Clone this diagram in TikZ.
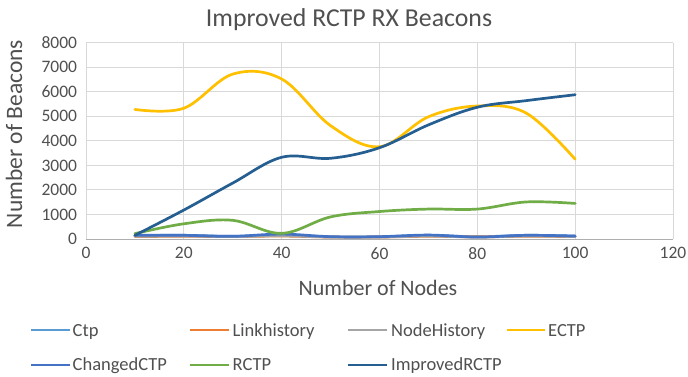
\documentclass[tikz,border=0pt]{standalone}
\usepackage{fontspec}
\setmainfont{Carlito}
\definecolor{textgray}{HTML}{505050}
\definecolor{gridgray}{HTML}{D9D9D9}
\definecolor{cCtp}{HTML}{5B9BD5}
\definecolor{cLink}{HTML}{ED7D31}
\definecolor{cNode}{HTML}{A5A5A5}
\definecolor{cEctp}{HTML}{FFC000}
\definecolor{cChanged}{HTML}{4472C4}
\definecolor{cRctp}{HTML}{70AD47}
\definecolor{cImproved}{HTML}{255E91}
\begin{document}
\begin{tikzpicture}[x=1pt,y=-1pt,
  txt/.style={text=textgray, inner sep=0pt},
  ticklbl/.style={txt, font=\fontsize{17.5}{20}\selectfont},
  legendlbl/.style={txt, anchor=base west, font=\fontsize{18.5}{21}\selectfont},
  gridline/.style={draw=gridgray, line width=0.9pt},
  series/.style={line width=2.7pt, line cap=round, line join=round},
  keyline/.style={line width=2.6pt}]
\useasboundingbox[fill=white] (0,0) rectangle (688,377);

% titles
\node[txt, anchor=base, font=\fontsize{25.8}{30}\selectfont] (title) at (349,27) {Improved RCTP RX Beacons};
\node[txt, anchor=base, rotate=90, font=\fontsize{23.5}{28}\selectfont] (ylabel) at (22,134) {Number of Beacons};
\node[txt, anchor=base, font=\fontsize{22}{26}\selectfont] (xlabel) at (378,295) {Number of Nodes};

% plot area: 0..120 nodes, 0..8000 beacons
\begin{scope}[shift={(86,239)}, x=4.8917pt, y=0.024541pt]
  \foreach \v in {1000,2000,...,8000} \draw[gridline] (0,\v) -- (120,\v);
  \foreach \n in {0,20,...,120} \draw[gridline] (\n,0) -- (\n,8000);
  \draw[draw=gridgray!80!black, line width=0.9pt] (0,0) -- (120,0);
  \foreach \v in {0,1000,...,8000}
    \node[ticklbl, anchor=east] (y\v) at (-1.8,\v) {\v};
  \foreach \n in {0,20,...,120}
    \node[ticklbl, anchor=north] (x\n) at (\n,-340) {\n};

  % data series
  \draw[series, cCtp] plot[smooth, tension=0.6] coordinates
    {(10,140) (20,150) (30,110) (40,160) (50,90) (60,90) (70,150) (80,90) (90,150) (100,120)};
  \draw[series, cLink] plot[smooth, tension=0.6] coordinates
    {(10,100) (20,110) (30,100) (40,120) (50,80) (60,80) (70,110) (80,90) (90,110) (100,100)};
  \draw[series, cNode] plot[smooth, tension=0.6] coordinates
    {(10,110) (20,120) (30,100) (40,130) (50,80) (60,80) (70,120) (80,80) (90,120) (100,100)};
  \draw[series, cEctp] plot[smooth, tension=0.6] coordinates
    {(10,5280) (20,5330) (30,6720) (40,6520) (50,4620) (60,3760) (70,4980) (80,5420) (90,5130) (100,3250)};
  \draw[series, cChanged] plot[smooth, tension=0.6] coordinates
    {(10,150) (20,150) (30,110) (40,200) (50,95) (60,95) (70,160) (80,80) (90,150) (100,120)};
  \draw[series, cRctp] plot[smooth, tension=0.6] coordinates
    {(10,220) (20,620) (30,760) (40,230) (50,900) (60,1120) (70,1220) (80,1220) (90,1510) (100,1450)};
  \draw[series, cImproved] plot[smooth, tension=0.6] coordinates
    {(10,150) (20,1180) (30,2280) (40,3330) (50,3290) (60,3720) (70,4650) (80,5370) (90,5640) (100,5880)};
\end{scope}

% legend
\coordinate (k1a) at (31,330);  \coordinate (k1b) at (70,330);
\coordinate (k2a) at (190,330); \coordinate (k2b) at (229,330);
\coordinate (k3a) at (348,330); \coordinate (k3b) at (387,330);
\coordinate (k4a) at (507,330); \coordinate (k4b) at (545,330);
\coordinate (k5a) at (31,365);  \coordinate (k5b) at (70,365);
\coordinate (k6a) at (190,365); \coordinate (k6b) at (229,365);
\coordinate (k7a) at (348,365); \coordinate (k7b) at (387,365);
\draw[keyline, cCtp] (k1a) -- (k1b);
\draw[keyline, cLink] (k2a) -- (k2b);
\draw[keyline, cNode] (k3a) -- (k3b);
\draw[keyline, cEctp] (k4a) -- (k4b);
\draw[keyline, cChanged] (k5a) -- (k5b);
\draw[keyline, cRctp] (k6a) -- (k6b);
\draw[keyline, cImproved] (k7a) -- (k7b);
\node[legendlbl] (l1) at (72.5,336.5) {Ctp};
\node[legendlbl] (l2) at (232.5,336.5) {Linkhistory};
\node[legendlbl] (l3) at (391,336.5) {NodeHistory};
\node[legendlbl] (l4) at (548,336.5) {ECTP};
\node[legendlbl] (l5) at (72.5,370.5) {ChangedCTP};
\node[legendlbl] (l6) at (232.5,370.5) {RCTP};
\node[legendlbl] (l7) at (391,370.5) {ImprovedRCTP};
\end{tikzpicture}
\end{document}
